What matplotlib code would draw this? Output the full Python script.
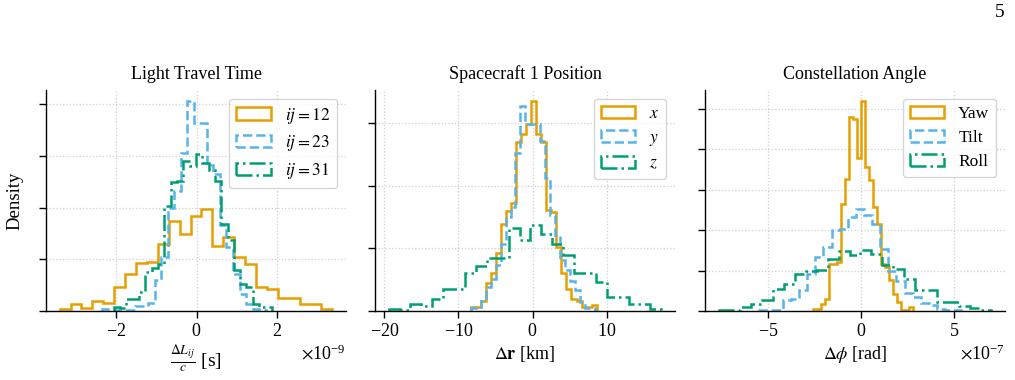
import numpy as np
import matplotlib
matplotlib.use("Agg")
import matplotlib.pyplot as plt
from matplotlib.ticker import MultipleLocator

plt.rcParams.update({
    'font.family': 'serif',
    'font.serif': ['Liberation Serif', 'DejaVu Serif'],
    'mathtext.fontset': 'stix',
    'axes.formatter.use_mathtext': True,
    'font.size': 13,
})

COLORS = ['#E69F00', '#56B4E9', '#009E73']
STYLES = ['-', '--', '-.']
NBINS = 25

# ---------------- Panel 1: Light Travel Time (s) ----------------
ltt_labels = [r'$ij = 12$', r'$ij = 23$', r'$ij = 31$']
ltt_ranges = [(-3.41e-9, 3.38e-9), (-2.35e-9, 1.72e-9), (-2.06e-9, 1.87e-9)]
ltt_12 = [0.03, 0.13, 0.06, 0.19, 0.16, 0.46, 0.72, 0.93, 0.95, 1.29, 1.75, 1.49, 1.84,
          1.97, 1.25, 1.43, 1.04, 0.91, 0.46, 0.42, 0.26, 0.26, 0.14, 0.14, 0.03]
ltt_23 = [0.04, 0.04, 0.02, 0.02, 0.02, 0.10, 0.10, 0.15, 0.60, 1.04, 2.00, 2.33, 3.06,
          4.07, 3.64, 3.64, 2.83, 2.64, 1.66, 1.23, 0.71, 0.33, 0.13, 0.04, 0.02]
ltt_31 = [0.08, 0.06, 0.23, 0.23, 0.37, 0.75, 0.83, 0.91, 2.04, 2.49, 2.52, 2.91, 2.81,
          3.03, 2.87, 2.72, 2.52, 1.68, 1.37, 0.79, 0.52, 0.46, 0.13, 0.08, 0.08]

# ---------------- Panel 2: Spacecraft 1 Position (km) ----------------
pos_labels = [r'$x$', r'$y$', r'$z$']
pos_ranges = [(-8.31, 8.63), (-8.31, 8.36), (-19.41, 17.36)]
pos_x = [0.06, 0.06, 0.16, 0.45, 0.61, 0.92, 1.39, 1.59, 1.72, 2.69, 2.82, 2.98, 3.36,
         2.82, 2.69, 1.62, 1.58, 1.02, 0.61, 0.35, 0.19, 0.16, 0.06, 0.06, 0.10]
pos_y = [0.04, 0.07, 0.16, 0.38, 0.51, 0.73, 1.07, 1.50, 1.66, 2.53, 3.28, 2.98, 2.98,
         2.98, 2.71, 2.13, 1.54, 1.21, 0.81, 0.65, 0.48, 0.33, 0.14, 0.04, 0.04]
pos_z = [0.03, 0.02, 0.11, 0.08, 0.19, 0.35, 0.35, 0.61, 0.72, 0.84, 0.84, 1.32, 1.13,
         1.37, 1.23, 1.07, 0.89, 0.61, 0.61, 0.46, 0.22, 0.22, 0.11, 0.11, 0.03]

# ---------------- Panel 3: Constellation Angle (rad) ----------------
ang_labels = ['Yaw', 'Tilt', 'Roll']
ang_ranges = [(-2.55e-7, 2.81e-7), (-5.50e-7, 5.39e-7), (-7.64e-7, 7.00e-7)]
ang_yaw = [0.06, 0.06, 0.17, 0.30, 1.16, 1.16, 1.21, 2.64, 3.25, 4.80, 4.75, 3.79, 5.20,
           3.55, 3.23, 2.56, 2.14, 1.16, 1.08, 0.76, 0.42, 0.22, 0.02, 0.02, 0.10]
ang_tilt = [0.03, 0.02, 0.03, 0.26, 0.30, 0.52, 0.91, 1.33, 1.58, 2.00, 2.02, 2.32, 2.51,
            2.36, 2.14, 1.53, 0.99, 0.74, 0.44, 0.34, 0.20, 0.15, 0.06, 0.03, 0.02]
ang_roll = [0.03, 0.03, 0.10, 0.17, 0.27, 0.54, 0.67, 0.91, 0.99, 1.01, 1.28, 1.48, 1.38,
            1.50, 1.40, 1.13, 1.03, 0.79, 0.52, 0.52, 0.22, 0.22, 0.12, 0.08, 0.03]

panels = [
    dict(title='Light Travel Time', labels=ltt_labels, ranges=ltt_ranges,
         heights=[ltt_12, ltt_23, ltt_31], xlabel=r'$\frac{\Delta L_{ij}}{c}$ [s]', xfs=14),
    dict(title='Spacecraft 1 Position', labels=pos_labels, ranges=pos_ranges,
         heights=[pos_x, pos_y, pos_z], xlabel=r'$\Delta\mathbf{r}$ [km]', xfs=13),
    dict(title='Constellation Angle', labels=ang_labels, ranges=ang_ranges,
         heights=[ang_yaw, ang_tilt, ang_roll], xlabel=r'$\Delta\phi$ [rad]', xfs=13),
]

W, H = 1015, 380
fig = plt.figure(figsize=(W / 100, H / 100), dpi=100)
lefts = [46, 375, 705]
for i, (p, lp) in enumerate(zip(panels, lefts)):
    ax = fig.add_axes([lp / W, (H - 311) / H, 300 / W, 221 / H])
    for (lo, hi), h, lab, c, ls in zip(p['ranges'], p['heights'], p['labels'], COLORS, STYLES):
        edges = np.linspace(lo, hi, NBINS + 1)
        centers = 0.5 * (edges[:-1] + edges[1:])
        ax.hist(centers, bins=edges, weights=h, histtype='step', color=c,
                linestyle=ls, linewidth=1.8, label=lab)
    ax.set_title(p['title'], fontsize=13, pad=8)
    ax.set_xlabel(p['xlabel'], fontsize=p['xfs'], labelpad=3)
    ax.yaxis.set_major_locator(MultipleLocator(1))
    ax.tick_params(axis='y', labelleft=False)
    ax.tick_params(direction='out', length=5, width=1, labelsize=13)
    ax.xaxis.get_offset_text().set_fontsize(13)
    for s in ['top', 'right']:
        ax.spines[s].set_visible(False)
    for s in ['left', 'bottom']:
        ax.spines[s].set_linewidth(1.0)
    ax.grid(True, linestyle=':', color='#d0d0d0', linewidth=0.9)
    ax.set_axisbelow(True)
    ax.legend(loc='upper right', fontsize=12.5, handlelength=2.0, labelspacing=0.45)
    if i == 0:
        ax.set_ylabel('Density', labelpad=11, fontsize=13.5)

fig.text(1005 / W, 1 - 4 / H, '5', ha='right', va='top', fontsize=14)
fig.savefig('out.png', dpi=100)
